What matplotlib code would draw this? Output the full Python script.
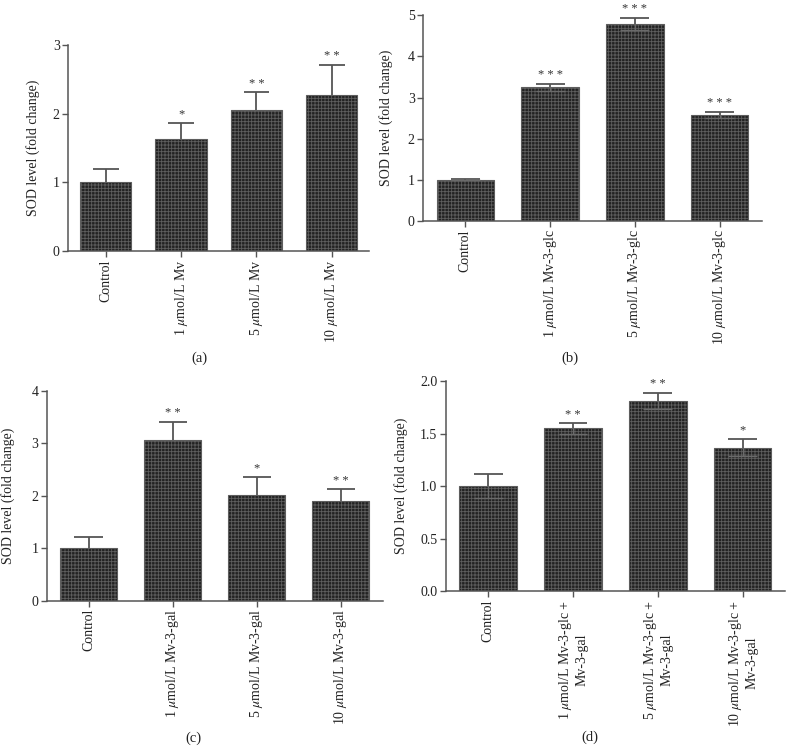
import numpy as np
import matplotlib
matplotlib.use('Agg')
import matplotlib.pyplot as plt

# >>>>>>>>>>>>> data <<<<<<<<<<<<< #

cats_a = ['Control', '1 $\\mu$mol/L Mv', '5 $\\mu$mol/L Mv', '10 $\\mu$mol/L Mv']
vals_a = [1.00, 1.635, 2.06, 2.27]
err_a = [0.20, 0.235, 0.25, 0.44]
star_a = ['', '*', '**', '**']

cats_b = ['Control', '1 $\\mu$mol/L Mv-3-glc', '5 $\\mu$mol/L Mv-3-glc', '10 $\\mu$mol/L Mv-3-glc']
vals_b = [1.00, 3.25, 4.79, 2.58]
err_b = [0.01, 0.09, 0.15, 0.08]
star_b = ['', '***', '***', '***']

cats_c = ['Control', '1 $\\mu$mol/L Mv-3-gal', '5 $\\mu$mol/L Mv-3-gal', '10 $\\mu$mol/L Mv-3-gal']
vals_c = [1.00, 3.06, 2.01, 1.90]
err_c = [0.22, 0.35, 0.35, 0.22]
star_c = ['', '**', '*', '**']

cats_d = ['Control', '1 $\\mu$mol/L Mv-3-glc +\nMv-3-gal', '5 $\\mu$mol/L Mv-3-glc +\nMv-3-gal',
          '10 $\\mu$mol/L Mv-3-glc +\nMv-3-gal']
vals_d = [1.00, 1.55, 1.81, 1.365]
err_d = [0.11, 0.05, 0.08, 0.08]
star_d = ['', '**', '**', '*']

# >>>>>>>>>>>>> style <<<<<<<<<<<<< #
plt.rcParams['font.family'] = ['Liberation Serif', 'DejaVu Serif']
plt.rcParams['mathtext.fontset'] = 'stix'
plt.rcParams['hatch.linewidth'] = 0.6
GRAY = '#555555'
FS = 10
CAPW = 0.17  # half cap width, in bar units

fig = plt.figure(figsize=(7.93, 7.51), dpi=100)


def panel(rect, cats, vals, errs, stars, ylim, yticks, yfmt, both, caption, cappos, ylab_x):
    ax = fig.add_axes(rect)
    x = np.arange(len(cats))
    vals = np.array(vals)
    errs = np.array(errs)
    ax.bar(x, vals, width=0.68, color='#222222', edgecolor='#5e5e5e', hatch='+++++', linewidth=0.8, zorder=2)
    # error bars: stem + cap on top, and a lighter lower half inside the bar for (b)/(d)
    ax.vlines(x, vals, vals + errs, color=GRAY, linewidth=1.3, zorder=3)
    ax.hlines(vals + errs, x - CAPW, x + CAPW, color=GRAY, linewidth=1.3, zorder=3)
    if both:
        ax.vlines(x, vals - errs, vals, color='#6a6a6a', linewidth=1.0, zorder=3)
        ax.hlines(vals - errs, x - CAPW, x + CAPW, color='#6a6a6a', linewidth=1.0, zorder=3)
    span = ylim[1] - ylim[0]
    for xi, v, e, s in zip(x, vals, errs, stars):
        if s:
            ax.text(xi, v + e + 0.012 * span, ' '.join(s), ha='center', va='bottom', fontsize=9, color='#333333')
    ax.set_xlim(-0.5, 3.5)
    ax.set_ylim(*ylim)
    ax.set_yticks(yticks)
    ax.set_yticklabels([yfmt.format(t) for t in yticks])
    ax.set_xticks(x)
    ax.set_xticklabels(cats, rotation=90, multialignment='center')
    for s in ['top', 'right']:
        ax.spines[s].set_visible(False)
    for s in ['left', 'bottom']:
        ax.spines[s].set_color(GRAY)
        ax.spines[s].set_linewidth(1.1)
    ax.tick_params(axis='both', colors=GRAY, labelcolor='#222222', length=4, width=1.0, labelsize=FS, pad=2)
    ax.set_ylabel('SOD level (fold change)', fontsize=FS, color='#222222')
    ax.yaxis.set_label_coords(ylab_x, 0.5)
    fig.text(cappos[0] / 793, 1 - cappos[1] / 751, caption, ha='center', va='center', fontsize=FS + 0.5, color='#222222')
    return ax


panel([0.0858, 0.6658, 0.380, 0.2743], cats_a, vals_a, err_a, star_a, (0, 3), [0, 1, 2, 3], '{:g}', False,
      '(a)', (199, 358), -0.093)
panel([0.5334, 0.7057, 0.4275, 0.2739], cats_b, vals_b, err_b, star_b, (0, 5), [0, 1, 2, 3, 4, 5], '{:g}', True,
      '(b)', (570, 358), -0.088)
panel([0.0589, 0.2001, 0.424, 0.2796], cats_c, vals_c, err_c, star_c, (0, 4), [0, 1, 2, 3, 4], '{:g}', False,
      '(c)', (193, 738), -0.094)
panel([0.562, 0.2130, 0.428, 0.2796], cats_d, vals_d, err_d, star_d, (0, 2), [0, 0.5, 1.0, 1.5, 2.0], '{:.1f}', True,
      '(d)', (590, 737), -0.111)

fig.savefig('out.png', dpi=100)
